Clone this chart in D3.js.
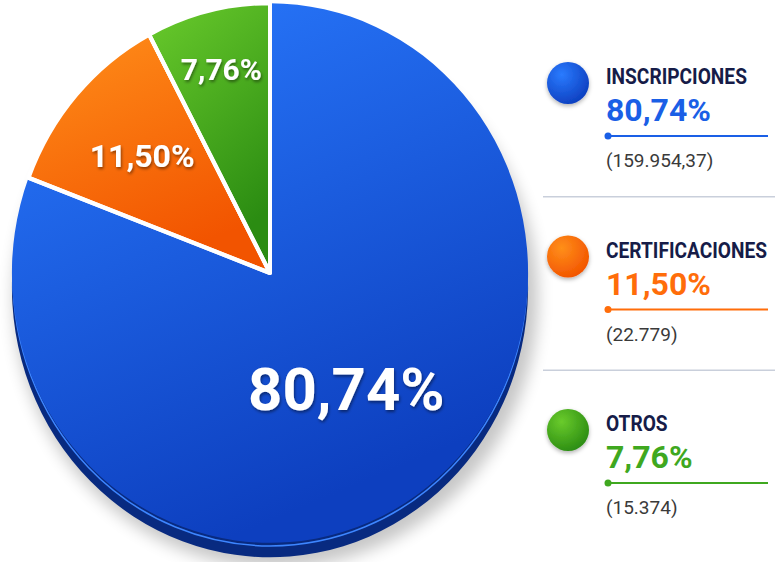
<!DOCTYPE html>
<meta charset="utf-8">
<head>
<title>Distribución de ingresos</title>
<script src="https://cdn.jsdelivr.net/npm/d3@7"></script>
<style>
  body { margin: 0; background: #fff; overflow: hidden; }
  text { font-family: Roboto, "Noto Sans", sans-serif; }
</style>
</head>
<body>
<script>
// data
const categories = ['INSCRIPCIONES', 'CERTIFICACIONES', 'OTROS'];
const shares = [80.74, 11.50, 7.76];
const amounts = ['(159.954,37)', '(22.779)', '(15.374)'];

const colors = ['#1a5fe6', '#ff6d0a', '#3fa81f'];
const lightColors = ['#2a7bff', '#ff8f1a', '#6acb2c'];
const darkColors = ['#0d3fbf', '#f25400', '#2b8c12'];
const labelRadius = [0.52, 0.66, 0.78];
const labelSize = [60, 32, 30];

const width = 775, height = 562;
const cx = 270, cy = 273, R = 262;
const fmt = v => v.toFixed(2).replace('.', ',') + '%';

const svg = d3.select('body').append('svg')
  .attr('width', width)
  .attr('height', height);

const defs = svg.append('defs');

const shadow = defs.append('filter').attr('id', 'shadow')
  .attr('x', '-20%').attr('y', '-20%').attr('width', '140%').attr('height', '140%');
shadow.append('feGaussianBlur').attr('stdDeviation', 8);

const txtShadow = defs.append('filter').attr('id', 'txtshadow')
  .attr('x', '-10%').attr('y', '-10%').attr('width', '120%').attr('height', '130%');
txtShadow.append('feDropShadow').attr('dx', 1).attr('dy', 2)
  .attr('stdDeviation', 1.5).attr('flood-color', '#000').attr('flood-opacity', 0.45);

const dotShadow = defs.append('filter').attr('id', 'dotshadow')
  .attr('x', '-30%').attr('y', '-30%').attr('width', '160%').attr('height', '170%');
dotShadow.append('feDropShadow').attr('dx', 0).attr('dy', 2)
  .attr('stdDeviation', 2).attr('flood-color', '#000').attr('flood-opacity', 0.3);

categories.forEach((c, i) => {
  const g = defs.append('linearGradient').attr('id', 'grad' + i)
    .attr('x1', 0).attr('y1', 0).attr('x2', 0.4).attr('y2', 1);
  g.append('stop').attr('offset', '0%').attr('stop-color', lightColors[i]);
  g.append('stop').attr('offset', '100%').attr('stop-color', darkColors[i]);
  const r = defs.append('radialGradient').attr('id', 'dot' + i)
    .attr('cx', '35%').attr('cy', '30%').attr('r', '75%');
  r.append('stop').attr('offset', '0%').attr('stop-color', lightColors[i]);
  r.append('stop').attr('offset', '100%').attr('stop-color', darkColors[i]);
});

const pie = d3.pie().sort(null).value(d => d)(shares);
const arc = d3.arc().innerRadius(0).outerRadius(R);

// pie group (slightly taller than wide)
const pg = svg.append('g')
  .attr('transform', `translate(${cx},${cy}) scale(0.985,1.03)`);

// shadow
pg.append('ellipse')
  .attr('cx', 6).attr('cy', 24).attr('rx', R + 4).attr('ry', R)
  .attr('fill', '#000').attr('opacity', 0.22)
  .attr('filter', 'url(#shadow)');

// 3d edge
pg.append('path')
  .attr('d', arc(pie[0]))
  .attr('transform', 'translate(0,14)')
  .attr('fill', '#082a80');
pg.append('circle')
  .attr('cy', 4).attr('r', R - 1)
  .attr('fill', 'none').attr('stroke', '#3d86ff').attr('stroke-width', 1.5);

// slices
pg.selectAll('path.slice')
  .data(pie)
  .enter().append('path')
  .attr('class', 'slice')
  .attr('d', arc)
  .attr('fill', (d, i) => `url(#grad${i})`)
  .attr('stroke', '#fff')
  .attr('stroke-width', (d, i) => i === 0 ? 0 : 4)
  .attr('stroke-linejoin', 'round');

// white separators between slices
pg.selectAll('line.sep')
  .data(pie)
  .enter().append('line')
  .attr('class', 'sep')
  .attr('x1', 0).attr('y1', 0)
  .attr('x2', d => Math.sin(d.startAngle) * R)
  .attr('y2', d => -Math.cos(d.startAngle) * R)
  .attr('stroke', '#fff')
  .attr('stroke-width', 4);

// slice labels
pg.selectAll('text.lbl')
  .data(pie)
  .enter().append('text')
  .attr('class', 'lbl')
  .attr('transform', (d, i) => {
    const a = (d.startAngle + d.endAngle) / 2;
    const r = R * labelRadius[i];
    return `translate(${Math.sin(a) * r},${-Math.cos(a) * r}) scale(1.015,0.97)`;
  })
  .attr('text-anchor', 'middle')
  .attr('dy', '0.36em')
  .attr('fill', '#fff')
  .attr('font-weight', 700)
  .attr('font-size', (d, i) => labelSize[i])
  .attr('filter', 'url(#txtshadow)')
  .text(d => fmt(d.data));

// legend
const ly = d3.scaleLinear().domain([0, 2]).range([84, 431]);
const lx = 606;

svg.selectAll('line.div')
  .data([0.5, 1.5])
  .enter().append('line')
  .attr('x1', 543).attr('x2', width)
  .attr('y1', d => ly(d) + 26).attr('y2', d => ly(d) + 26)
  .attr('stroke', '#c9cfdb').attr('stroke-width', 1.5);

const item = svg.selectAll('g.item')
  .data(categories)
  .enter().append('g')
  .attr('class', 'item')
  .attr('transform', (d, i) => `translate(0,${ly(i)})`);

item.append('circle')
  .attr('cx', 568).attr('cy', -1).attr('r', 21)
  .attr('fill', (d, i) => `url(#dot${i})`)
  .attr('filter', 'url(#dotshadow)');

item.append('text')
  .attr('transform', `translate(${lx},0) scale(0.87,1)`)
  .attr('font-size', 22)
  .attr('font-weight', 700)
  .attr('fill', '#161c48')
  .text(d => d);

item.append('text')
  .attr('x', lx).attr('y', 37)
  .attr('font-size', 32)
  .attr('font-weight', 700)
  .attr('fill', (d, i) => colors[i])
  .text((d, i) => fmt(shares[i]));

item.append('line')
  .attr('x1', lx + 2).attr('x2', 768)
  .attr('y1', 52).attr('y2', 52)
  .attr('stroke', (d, i) => colors[i]).attr('stroke-width', 1.8);

item.append('circle')
  .attr('cx', lx + 2).attr('cy', 52).attr('r', 3.5)
  .attr('fill', (d, i) => colors[i]);

item.append('text')
  .attr('x', lx).attr('y', 83)
  .attr('font-size', 19)
  .attr('fill', '#3a3a3a')
  .text((d, i) => amounts[i]);
</script>
</body>
</html>
